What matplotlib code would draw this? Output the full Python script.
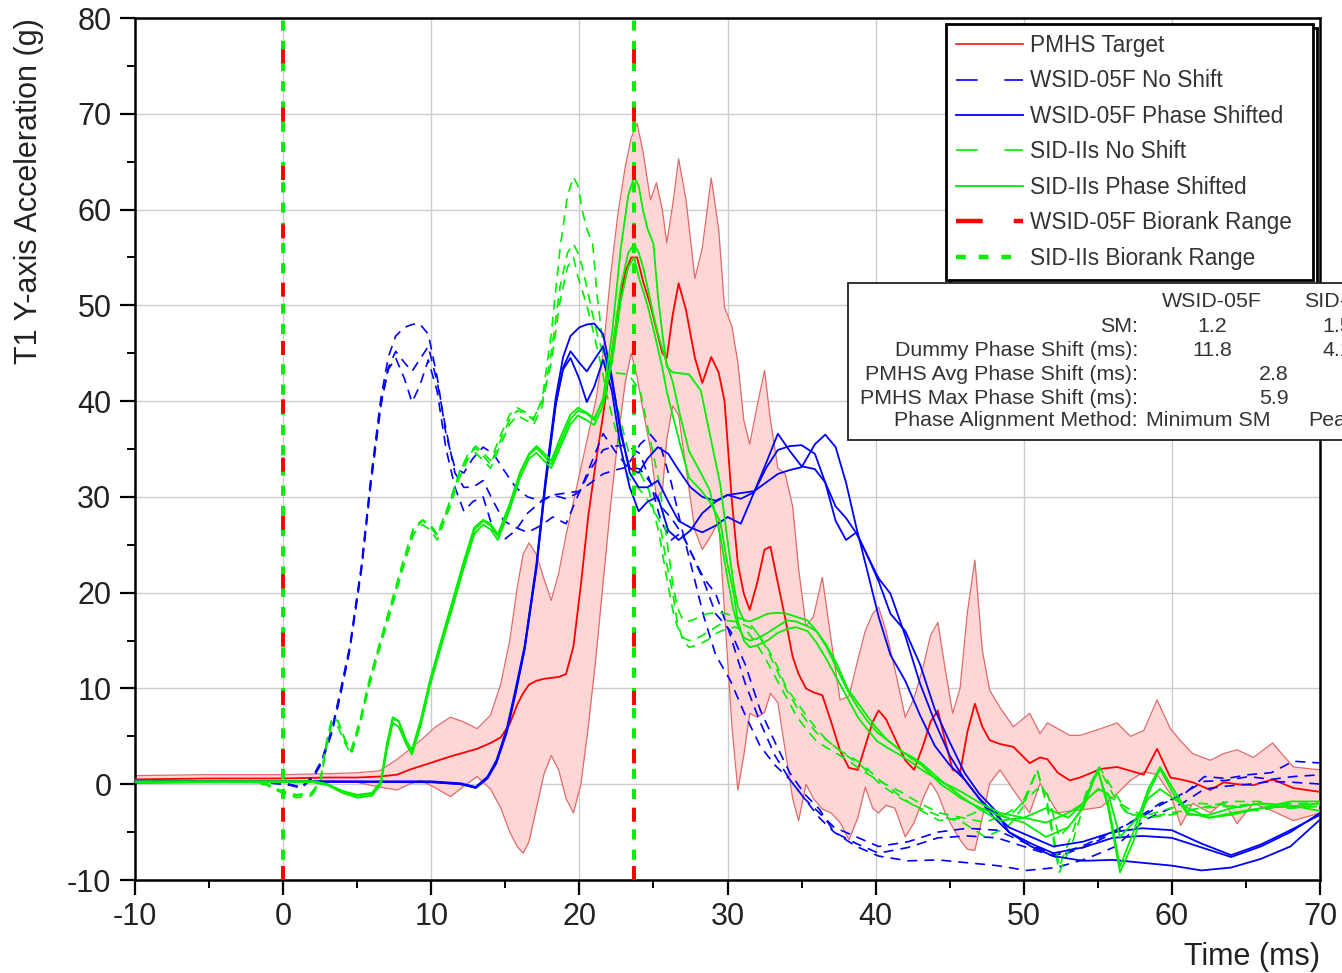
import numpy as np
import matplotlib
matplotlib.use("Agg")
import matplotlib.pyplot as plt
from matplotlib.lines import Line2D
from matplotlib.patches import Rectangle
from matplotlib.ticker import MultipleLocator
from matplotlib.transforms import IdentityTransform

plt.rcParams['font.family'] = ['Liberation Sans', 'DejaVu Sans']
plt.rcParams['axes.unicode_minus'] = False

# ---------------- PMHS target: mean and corridor (g) ----------------
pmhs_time = np.array([
    -10, -5, 0, 3, 5, 6.5, 7.7, 8.5, 9.3, 10.3,
    11.3, 12.2, 13.1, 14.0, 14.7, 15.3, 15.8, 16.2, 16.6, 17.1,
    17.6, 18.1, 18.6, 19.1, 19.6, 20.1, 20.6, 21.1, 21.6, 22.1,
    22.6, 23.1, 23.5, 23.9, 24.3, 24.8, 25.2, 25.6, 25.9, 26.3,
    26.7, 27.2, 27.8, 28.3, 28.9, 29.4, 29.8, 30.3, 30.7, 31.1,
    31.5, 32.0, 32.5, 32.9, 33.4, 33.9, 34.4, 34.8, 35.3, 35.8,
    36.4, 37.0, 37.6, 38.2, 38.8, 39.3, 39.8, 40.2, 40.7, 41.3,
    42.0, 42.6, 43.2, 43.7, 44.2, 44.7, 45.2, 45.7, 46.2, 46.7,
    47.2, 47.7, 48.4, 49.3, 50.4, 51.1, 51.6, 52.3, 53.1, 53.8,
    55.2, 56.3, 57.2, 58.1, 59.0, 59.9, 60.6, 61.4, 62.6, 63.5,
    64.4, 65.5, 66.8, 68.2, 70])
pmhs_mean = np.array([
    0.5, 0.6, 0.6, 0.7, 0.7, 0.8, 1.0, 1.5, 1.9, 2.4,
    2.9, 3.3, 3.7, 4.3, 4.9, 6.3, 8.3, 9.5, 10.4, 10.8,
    11.0, 11.1, 11.2, 11.5, 14.4, 20.8, 28.0, 33.5, 38.5, 44.0,
    49.5, 53.5, 55.0, 55.0, 52.5, 50.0, 47.5, 45.0, 44.5, 49.0,
    52.3, 49.5, 44.5, 41.9, 44.6, 43.0, 40.0, 29.5, 23.0, 19.9,
    18.2, 21.0, 24.5, 24.8, 21.0, 17.3, 13.3, 11.5, 10.0, 9.6,
    9.3, 6.5, 3.5, 1.7, 1.5, 4.0, 6.5, 7.7, 6.8, 4.8,
    2.5, 1.5, 4.0, 6.5, 7.7, 4.5, 1.5, 1.2, 5.5, 8.4,
    6.0, 4.6, 4.2, 3.9, 2.2, 2.8, 2.6, 1.2, 0.4, 0.7,
    1.6, 1.8, 1.4, 1.0, 3.7, 0.7, 0.5, 0.2, -0.6, 0.2,
    0.0, -0.1, 0.5, -0.4, -0.8])
pmhs_upper = np.array([
    0.9, 1.0, 1.0, 1.1, 1.2, 1.4, 2.6, 3.6, 4.6, 6.0,
    7.0, 6.5, 5.8, 7.2, 10.5, 15.0, 20.5, 24.0, 25.2, 24.0,
    21.5, 19.2, 22.0, 26.0, 29.5, 33.0, 36.5, 40.0, 45.0, 53.0,
    59.5, 64.5, 67.5, 69.0, 66.0, 61.0, 62.8, 60.0, 56.5, 60.5,
    65.3, 61.0, 52.8, 56.0, 63.3, 58.0, 49.8, 47.8, 44.0, 38.0,
    35.5, 39.5, 43.2, 38.0, 33.0, 32.4, 29.0, 22.5, 16.5, 17.5,
    21.6, 15.0, 8.8, 9.2, 13.0, 16.0, 17.8, 18.5, 16.0, 12.0,
    7.0, 9.0, 12.2, 15.5, 16.9, 12.0, 7.4, 10.0, 18.0, 23.4,
    14.0, 9.8, 8.0, 6.0, 7.4, 5.3, 6.4, 5.8, 5.1, 5.1,
    5.8, 6.4, 5.0, 5.6, 8.8, 5.8, 4.5, 3.2, 2.5, 3.2,
    3.6, 2.8, 4.3, 1.8, 1.5])
pmhs_lower = np.array([
    0.1, 0.2, 0.2, 0.3, 0.2, -0.3, -0.6, 0.0, 0.4, -0.4,
    -1.3, -0.2, 0.8, -0.5, -2.5, -5.0, -6.5, -7.2, -6.0, -2.5,
    1.0, 3.0, 1.5, -1.5, -3.0, 0.0, 6.0, 13.0, 21.0, 29.0,
    36.0, 42.0, 45.0, 42.5, 39.0, 35.0, 30.0, 30.5, 36.0, 39.5,
    38.5, 33.0, 26.5, 24.5, 26.0, 27.5, 18.0, 6.0, -0.6, 3.0,
    7.4, 7.0, 7.5, 9.5, 8.5, 3.5, -1.5, -3.8, 0.0, -1.5,
    -2.6, -3.0, -4.0, -5.8, -3.5, -0.3, -2.5, -3.0, -2.2, -2.5,
    -5.5, -4.0, -1.5, 0.2, -1.0, -3.0, -4.5, -5.8, -6.8, -6.9,
    -3.5, 0.1, 1.5, -0.6, -3.0, 0.1, -1.2, -3.0, -2.8, -2.7,
    -2.4, -1.0, 0.4, 1.3, 1.0, -1.0, -4.3, -2.0, -3.0, -1.8,
    -4.1, -2.0, -2.8, -3.8, -3.0])

# ---------------- WSID-05F: three tests, time in PMHS-aligned frame ----------------
wsid_shift = 11.8
wsid_time = np.array([
    -10, 0, 10, 12, 13, 13.8, 14.4, 15.1, 15.7, 16.3,
    17.1, 17.7, 18.4, 18.9, 19.4, 20.0, 20.5, 21.0, 21.6, 22.2,
    22.8, 23.4, 24.0, 24.6, 25.3, 26.0, 26.7, 27.5, 28.3, 29.2,
    30.0, 30.9, 31.8, 32.6, 33.4, 34.2, 35.0, 35.9, 36.6, 37.3,
    38.0, 38.7, 39.4, 40.2, 41.0, 42.0, 43.0, 44.0, 45.0, 46.0,
    47.0, 48.0, 49.0, 50.5, 52, 54, 56, 58, 60, 62,
    64, 66, 68, 70, 71, 72.5, 74, 75.5, 77, 78.5,
    80, 82])
wsid_test1 = np.array([
    0.3, 0.3, 0.3, 0.1, -0.3, 0.8, 2.5, 5.8, 10.0, 14.4,
    23.0, 31.7, 40.3, 44.6, 46.8, 47.7, 48.0, 48.1, 47.0, 42.5,
    36.5, 33.0, 32.5, 34.0, 35.2, 34.5, 32.8, 31.0, 30.0, 29.6,
    30.2, 29.8, 30.5, 33.5, 36.6, 34.8, 33.2, 32.9, 31.5, 29.0,
    27.8, 26.2, 24.0, 21.2, 17.8, 16.0, 12.5, 7.8, 4.4, 1.2,
    -1.0, -2.6, -5.0, -6.2, -7.2, -6.6, -5.6, -5.4, -5.6, -6.6,
    -7.6, -6.5, -5.0, -3.0, -2.0, -1.2, 0.8, 0.6, 1.0, 1.2,
    2.4, 2.2])
wsid_test2 = np.array([
    0.2, 0.25, 0.25, 0.0, -0.4, 0.6, 2.2, 5.4, 9.5, 14.0,
    22.5, 31.0, 39.5, 43.5, 45.2, 44.0, 43.1, 44.3, 45.7, 42.0,
    37.0, 32.5, 31.0, 31.0, 31.7, 29.5, 27.5, 26.8, 26.3, 27.0,
    27.9, 27.2, 30.5, 33.0, 34.9, 35.3, 35.4, 34.5, 31.5, 27.5,
    25.5, 26.3, 24.0, 21.5, 19.9, 15.5, 10.5, 6.5, 3.0, 0.5,
    -1.5, -3.0, -4.5, -5.5, -6.5, -6.0, -5.0, -4.6, -4.8, -6.2,
    -7.4, -6.3, -4.8, -3.2, -2.2, -1.0, 0.3, 0.4, 0.8, 0.5,
    0.8, 1.0])
wsid_test3 = np.array([
    0.25, 0.3, 0.2, 0.0, -0.3, 0.7, 2.3, 5.6, 9.7, 14.2,
    22.7, 31.3, 39.8, 43.3, 44.5, 42.3, 39.9, 41.5, 44.3, 41.0,
    35.0, 31.0, 28.5, 29.5, 30.0, 26.5, 25.5, 26.5, 28.3, 29.5,
    30.2, 30.4, 30.6, 31.5, 32.4, 32.8, 33.1, 35.5, 36.5, 35.2,
    31.5, 26.8, 22.5, 17.5, 13.5, 10.8, 7.2, 4.0, 2.0, 0.5,
    -1.5, -3.5, -5.0, -6.5, -7.5, -8.0, -7.9, -8.2, -8.5, -9.0,
    -8.7, -7.8, -6.5, -3.7, -3.0, -2.0, -0.5, -0.2, 0.0, 0.3,
    0.2, 0.0])

# ---------------- SID-IIs: three tests, time in PMHS-aligned frame ----------------
sid_shift = 4.1
sid_time = np.array([
    -10, 2.0, 3.0, 4.0, 5.0, 6.0, 6.6, 7.0, 7.4, 7.8,
    8.3, 8.7, 9.3, 9.9, 10.7, 11.5, 12.2, 12.9, 13.5, 14.0,
    14.5, 15.3, 16.0, 16.6, 17.1, 17.6, 18.1, 18.8, 19.4, 19.9,
    20.5, 21.0, 21.6, 22.2, 22.8, 23.3, 23.7, 24.0, 24.3, 24.6,
    25.0, 25.3, 25.6, 25.9, 26.3, 26.8, 27.4, 28.2, 28.8, 29.5,
    30.0, 30.4, 30.7, 31.1, 31.5, 32.0, 32.7, 33.4, 34.0, 34.6,
    35.4, 36.0, 36.7, 37.4, 38.1, 38.8, 39.4, 40.1, 40.8, 41.7,
    42.5, 43.1, 44.4, 45.8, 47.1, 48.4, 50.0, 51.5, 53.0, 54.0,
    55.0, 55.7, 56.5, 57.4, 58.4, 59.2, 60.1, 61.1, 62.5, 64.0,
    66.0, 68.0, 70.0, 72.0, 74.1])
sid_test1 = np.array([
    0.3, 0.3, 0.0, -0.8, -1.2, -1.0, 0.2, 4.0, 6.8, 6.6,
    4.6, 3.4, 6.5, 10.5, 15.0, 19.2, 23.0, 26.5, 27.5, 27.0,
    25.9, 29.1, 32.5, 34.4, 35.1, 34.3, 33.4, 36.0, 38.1, 39.0,
    38.7, 38.0, 40.3, 47.0, 56.0, 61.5, 63.4, 62.5, 59.9, 58.0,
    56.4, 51.0, 47.1, 43.6, 43.0, 42.9, 42.8, 41.1, 36.6, 31.4,
    25.5, 21.0, 18.5, 17.1, 17.0, 17.3, 17.8, 17.9, 17.8, 17.5,
    17.1, 16.0, 14.3, 12.0, 9.8, 8.0, 6.7, 5.4, 4.6, 3.5,
    2.8, 2.2, 0.4, -1.3, -2.7, -3.8, -3.5, -2.5, -3.5, -2.0,
    1.5, -2.0, -8.6, -5.0, -0.5, 1.8, -0.5, -3.0, -3.5, -3.0,
    -2.5, -2.3, -2.0, -2.5, -2.3])
sid_test2 = np.array([
    0.2, 0.2, -0.1, -0.9, -1.4, -1.2, 0.0, 3.6, 6.4, 6.0,
    4.2, 3.1, 6.2, 10.2, 14.6, 18.8, 22.6, 26.1, 27.1, 26.6,
    25.5, 28.7, 32.0, 34.0, 34.6, 33.8, 33.0, 35.5, 37.6, 38.5,
    38.0, 37.5, 39.5, 45.0, 52.0, 55.5, 56.4, 55.5, 54.0, 51.9,
    49.0, 47.0, 45.5, 43.9, 42.0, 38.5, 34.8, 32.5, 30.7, 26.0,
    21.5, 18.2, 16.5, 15.3, 15.0, 15.2, 15.8, 16.5, 17.1, 17.0,
    16.5, 16.0, 14.5, 12.5, 10.0, 8.5, 7.2, 5.8, 4.6, 3.5,
    2.6, 2.0, 0.0, -1.5, -2.5, -3.3, -4.0, -5.5, -4.5, -2.5,
    1.5, -2.5, -9.2, -6.0, -1.0, 1.6, -1.0, -3.2, -3.2, -2.5,
    -2.0, -2.2, -2.8, -2.0, -2.0])
sid_test3 = np.array([
    0.25, 0.3, 0.0, -0.7, -1.1, -0.9, 0.3, 4.2, 7.0, 6.6,
    4.5, 3.6, 6.8, 10.8, 15.2, 19.5, 23.3, 26.8, 27.6, 27.2,
    26.1, 29.3, 32.6, 34.5, 35.3, 34.6, 33.8, 36.5, 38.6, 39.3,
    38.8, 38.2, 40.0, 44.0, 50.5, 54.0, 55.0, 53.0, 51.5, 50.0,
    47.5, 45.5, 43.5, 41.0, 38.5, 35.5, 32.0, 30.7, 29.5, 27.5,
    23.0, 20.0, 17.0, 15.0, 14.3, 14.5, 15.0, 15.8, 16.2, 16.4,
    16.0, 14.8, 13.0, 11.0, 9.0, 7.0, 5.8, 4.5, 3.8, 3.0,
    2.2, 1.5, 0.3, -0.8, -2.0, -3.0, -3.5, -4.0, -3.0, -2.0,
    -0.5, -1.0, -5.5, -4.0, -1.5, -0.5, -1.5, -2.5, -3.5, -3.2,
    -2.5, -1.8, -1.8, -2.5, -2.2])

# BioRank evaluation window (ms), identical for both dummies
biorank_window = [0.0, 23.7]

# Summary table
table_columns = ["WSID-05F", "SID-IIs"]
table_rows = ["SM:", "Dummy Phase Shift (ms):", "PMHS Avg Phase Shift (ms):",
              "PMHS Max Phase Shift (ms):", "Phase Alignment Method:"]
sm_values = ["1.2", "1.5"]
dummy_shift_values = ["11.8", "4.1"]
pmhs_avg_shift = "2.8"
pmhs_max_shift = "5.9"
alignment_methods = ["Minimum SM", "Peak"]

# ---------------- figure ----------------
W, H = 1342, 973
fig = plt.figure(figsize=(W / 100, H / 100), dpi=100)
ax = fig.add_axes([135 / W, 1 - 880 / H, 1185 / W, 862 / H])

RED, BLUE, GREEN = '#ff0000', '#0000ff', '#00ee00'
dash = (6, 4.2)

ax.fill_between(pmhs_time, pmhs_lower, pmhs_upper, color='#ffd6d6', lw=0, zorder=1)
ax.plot(pmhs_time, pmhs_upper, color='#e06a6a', lw=0.9, zorder=1.5)
ax.plot(pmhs_time, pmhs_lower, color='#e06a6a', lw=0.9, zorder=1.5)
ax.plot(pmhs_time, pmhs_mean, color=RED, lw=1.3, zorder=3)

for run in (wsid_test1, wsid_test2, wsid_test3):
    ax.plot(wsid_time - wsid_shift, run, color=BLUE, lw=1.2, dashes=dash, zorder=3.2)
    ax.plot(wsid_time, run, color=BLUE, lw=1.3, zorder=3.4)
for run in (sid_test1, sid_test2, sid_test3):
    ax.plot(sid_time - sid_shift, run, color=GREEN, lw=1.2, dashes=dash, zorder=3.3)
    ax.plot(sid_time, run, color=GREEN, lw=1.3, zorder=3.5)

for x in biorank_window:
    ax.axvline(x, color=GREEN, lw=2.8, dashes=(2.6, 2.6), zorder=4.0)
    ax.axvline(x, color=RED, lw=2.8, dashes=(3.6, 11.4), zorder=4.1)

ax.set_xlim(-10, 70)
ax.set_ylim(-10, 80)
ax.xaxis.set_major_locator(MultipleLocator(10))
ax.xaxis.set_minor_locator(MultipleLocator(5))
ax.yaxis.set_major_locator(MultipleLocator(10))
ax.yaxis.set_minor_locator(MultipleLocator(5))
ax.grid(True, which='major', color='#cccccc', lw=1.0, zorder=0)
ax.set_axisbelow(True)
for s in ax.spines.values():
    s.set_linewidth(1.8)
    s.set_color('black')
ax.tick_params(which='major', direction='out', length=11, width=1.6,
               labelsize=22, labelcolor='#222222', top=False, right=False)
ax.tick_params(which='minor', direction='out', length=6, width=1.4, top=False, right=False)
ax.tick_params(axis='x', which='major', pad=5)
ax.tick_params(axis='y', which='major', pad=6)

ax.set_xlabel("Time (ms)", fontsize=22, color='#222222', loc='right')
ax.xaxis.set_label_coords(1.0, -0.072)
ax.set_ylabel("T1 Y-axis Acceleration (g)", fontsize=22, color='#222222', loc='top')
ax.yaxis.set_label_coords(-0.077, 1.0)

# legend
handles = [
    Line2D([], [], color=RED, lw=1.1),
    Line2D([], [], color=BLUE, lw=1.2, dashes=(13, 16)),
    Line2D([], [], color=BLUE, lw=1.3),
    Line2D([], [], color=GREEN, lw=1.2, dashes=(13, 16)),
    Line2D([], [], color=GREEN, lw=1.3),
    Line2D([], [], color=RED, lw=3.2, dashes=(6.0, 7.0)),
    Line2D([], [], color=GREEN, lw=3.2, dashes=(2.2, 2.9)),
]
labels = ["PMHS Target", "WSID-05F No Shift", "WSID-05F Phase Shifted",
          "SID-IIs No Shift", "SID-IIs Phase Shifted",
          "WSID-05F Biorank Range", "SID-IIs Biorank Range"]
leg = ax.legend(handles, labels, loc='upper left', mode='expand',
                bbox_to_anchor=(0.684, 0.703, 0.310, 0.290), borderaxespad=0,
                fontsize=16.3, handlelength=3.0, handletextpad=0.3, labelspacing=0.55,
                borderpad=0.44, fancybox=False, framealpha=1, edgecolor='black')
leg.get_frame().set_linewidth(2.0)
for t in leg.get_texts():
    t.set_color('#333333')
leg.set_zorder(6)

fig.canvas.draw()
bb = leg.get_frame().get_window_extent()
shadow = Rectangle((bb.x0 + 4, bb.y0 - 4), bb.width, bb.height, transform=IdentityTransform(),
                   facecolor='white', edgecolor='black', lw=2.0, zorder=5.9, clip_on=False)
ax.add_artist(shadow)

# summary box
def fx(px):
    return px / W

def fy(py):
    return 1 - py / H

box = Rectangle((fx(848), fy(440)), fx(1360) - fx(848), fy(283) - fy(440),
                transform=fig.transFigure, facecolor='white', edgecolor='#222222',
                lw=1.3, zorder=7, clip_on=False)
ax.add_artist(box)
tkw = dict(transform=fig.transFigure, fontsize=15.4, color='#333333', va='center',
           zorder=8, clip_on=False)
col1, col2, colmid = 1212, 1337, 1274
row_y = [326, 350, 374, 398, 421]
ax.text(fx(col1), fy(301), table_columns[0], ha='center', **tkw)
ax.text(fx(col2), fy(301), table_columns[1], ha='center', **tkw)
for name, y in zip(table_rows, row_y):
    ax.text(fx(1138), fy(y), name, ha='right', **tkw)
for i, c in enumerate((col1, col2)):
    ax.text(fx(c), fy(row_y[0]), sm_values[i], ha='center', **tkw)
    ax.text(fx(c), fy(row_y[1]), dummy_shift_values[i], ha='center', **tkw)
    ax.text(fx(c - 4), fy(row_y[4]), alignment_methods[i], ha='center', **tkw)
ax.text(fx(colmid), fy(row_y[2]), pmhs_avg_shift, ha='center', **tkw)
ax.text(fx(colmid), fy(row_y[3]), pmhs_max_shift, ha='center', **tkw)

fig.savefig("out.png", dpi=100)
